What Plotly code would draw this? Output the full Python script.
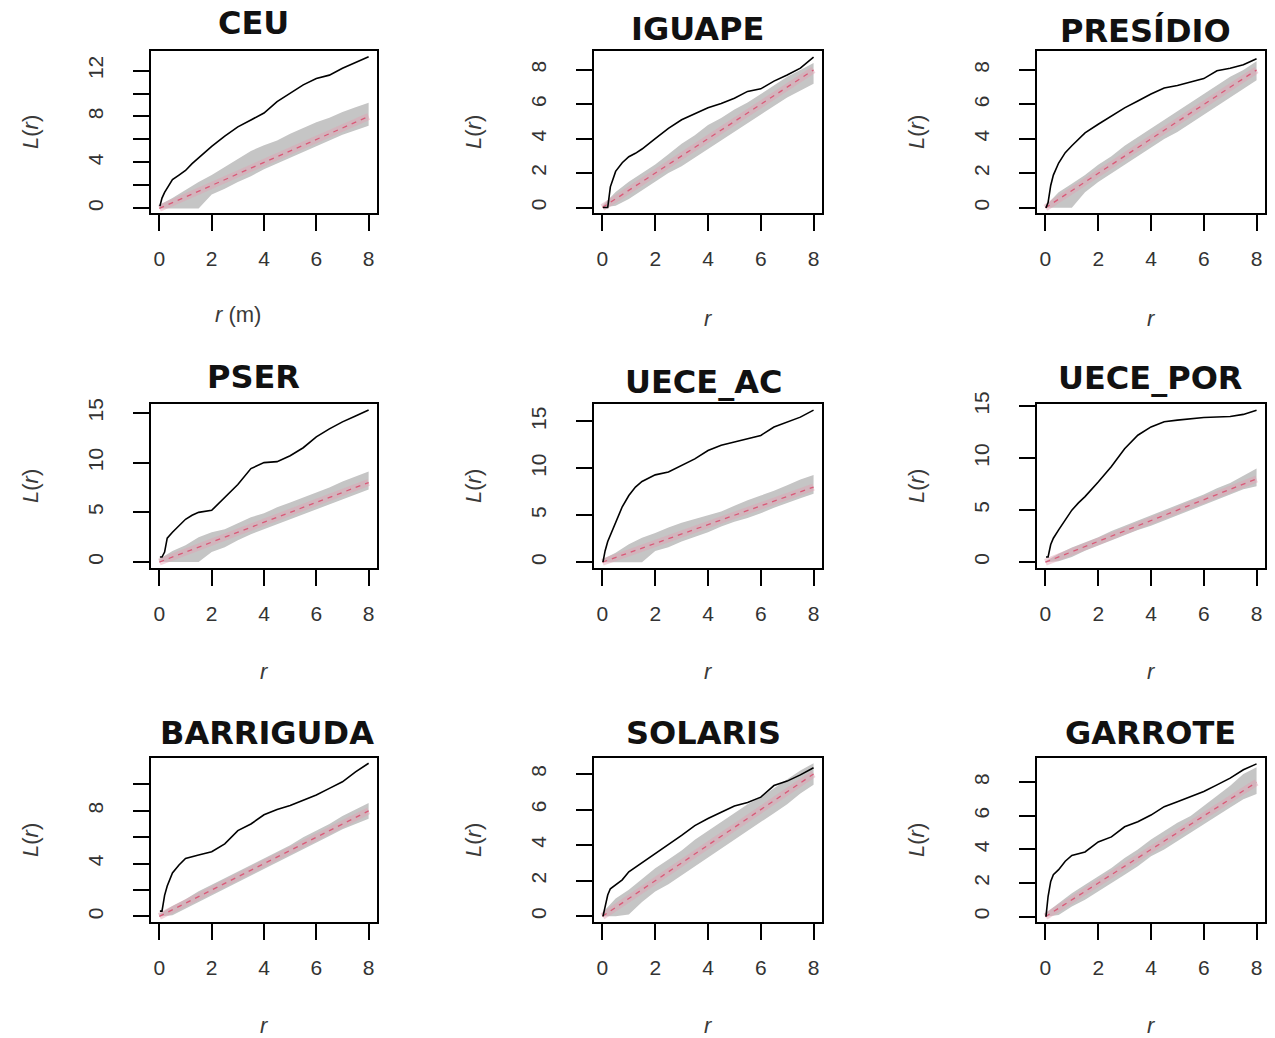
import plotly.graph_objects as go

# ---------------- data ----------------
PANELS = ["CEU", "IGUAPE", "PRESIDIO", "PSER", "UECE_AC", "UECE_POR",
          "BARRIGUDA", "SOLARIS", "GARROTE"]

OBS_R = [0.02, 0.1, 0.2, 0.3, 0.5, 0.75, 1, 1.25, 1.5, 2, 2.5, 3, 3.5, 4,
         4.5, 5, 5.5, 6, 6.5, 7, 7.5, 8]

OBS_CEU = [0.2, 0.9, 1.4, 1.8, 2.5, 2.9, 3.3, 3.9, 4.4, 5.4, 6.3, 7.1, 7.7, 8.3,
           9.3, 10.0, 10.75, 11.3, 11.6, 12.2, 12.7, 13.2]
OBS_IGUAPE = [0, 0, 0, 1.2, 2.1, 2.6, 2.95, 3.15, 3.4, 4.0, 4.6, 5.1, 5.45, 5.8,
              6.05, 6.35, 6.75, 6.9, 7.35, 7.7, 8.1, 8.75]
OBS_PRESIDIO = [0, 0.3, 1.3, 1.9, 2.6, 3.2, 3.6, 4.0, 4.35, 4.85, 5.35, 5.8, 6.2,
                6.6, 6.95, 7.1, 7.3, 7.5, 7.95, 8.1, 8.3, 8.65]
OBS_PSER = [0.5, 0.5, 1.0, 2.4, 3.0, 3.7, 4.3, 4.7, 5.0, 5.2, 6.5, 7.8, 9.4, 10.0,
            10.1, 10.7, 11.5, 12.6, 13.4, 14.1, 14.7, 15.3]
OBS_UECE_AC = [0, 1.2, 2.2, 2.9, 4.1, 5.9, 7.1, 8.0, 8.6, 9.3, 9.6, 10.3, 11.0,
               11.9, 12.45, 12.8, 13.15, 13.5, 14.4, 14.9, 15.45, 16.2]
OBS_UECE_POR = [0.5, 0.5, 1.7, 2.3, 3.1, 4.05, 5.0, 5.7, 6.3, 7.7, 9.2, 10.9, 12.2,
                13.0, 13.5, 13.65, 13.8, 13.9, 13.95, 14.0, 14.2, 14.6]
OBS_BARRIGUDA = [0.4, 0.4, 1.6, 2.3, 3.3, 3.9, 4.4, 4.55, 4.65, 4.9, 5.5, 6.5, 7.0,
                 7.7, 8.1, 8.4, 8.8, 9.2, 9.7, 10.2, 10.95, 11.6]
OBS_SOLARIS = [0, 0.6, 1.2, 1.55, 1.75, 2.05, 2.5, 2.75, 3.0, 3.55, 4.0, 4.55, 5.1,
               5.5, 5.85, 6.2, 6.4, 6.7, 7.35, 7.6, 7.95, 8.35]
OBS_GARROTE = [0, 1.2, 2.1, 2.5, 2.8, 3.3, 3.65, 3.75, 3.85, 4.45, 4.75, 5.35, 5.65,
               6.05, 6.55, 6.85, 7.15, 7.45, 7.85, 8.25, 8.75, 9.1]

ENV_R = [0, 0.5, 1, 1.5, 2, 2.5, 3, 3.5, 4, 4.5, 5, 5.5, 6, 6.5, 7, 7.5, 8]

HI_CEU = [0.3, 0.9, 1.6, 2.3, 2.9, 3.6, 4.3, 5.0, 5.5, 5.9, 6.5, 7.0, 7.5, 7.9, 8.4, 8.8, 9.2]
LO_CEU = [0, 0, 0, 0, 1.2, 1.7, 2.3, 2.8, 3.4, 3.9, 4.4, 4.9, 5.4, 5.9, 6.4, 6.8, 7.2]
HI_IGUAPE = [0.1, 0.9, 1.5, 2.0, 2.5, 3.1, 3.7, 4.2, 4.8, 5.2, 5.7, 6.1, 6.6, 7.1, 7.6, 8.0, 8.4]
LO_IGUAPE = [0, 0.1, 0.5, 1.0, 1.5, 2.0, 2.4, 2.9, 3.4, 3.9, 4.4, 4.9, 5.4, 5.9, 6.4, 6.8, 7.2]
HI_PRESIDIO = [0.1, 0.9, 1.4, 1.9, 2.5, 3.0, 3.6, 4.1, 4.6, 5.1, 5.6, 6.1, 6.6, 7.1, 7.6, 8.0, 8.5]
LO_PRESIDIO = [0, 0, 0, 0.9, 1.5, 2.0, 2.5, 3.0, 3.5, 4.0, 4.4, 4.9, 5.4, 5.9, 6.4, 6.9, 7.4]
HI_PSER = [0.3, 1.1, 1.7, 2.5, 3.0, 3.3, 3.9, 4.5, 4.9, 5.5, 6.0, 6.5, 7.0, 7.5, 8.1, 8.6, 9.1]
LO_PSER = [0, 0, 0, 0, 1.0, 1.5, 2.2, 2.8, 3.3, 3.8, 4.3, 4.8, 5.3, 5.8, 6.3, 6.8, 7.3]
HI_UECE_AC = [0.3, 1.0, 1.9, 2.6, 3.1, 3.7, 4.2, 4.6, 5.0, 5.4, 6.0, 6.6, 7.1, 7.6, 8.2, 8.8, 9.3]
LO_UECE_AC = [0, 0, 0, 0, 1.2, 1.6, 2.2, 2.7, 3.2, 3.8, 4.3, 4.7, 5.2, 5.8, 6.3, 6.8, 7.3]
HI_UECE_POR = [0.1, 0.8, 1.4, 1.9, 2.4, 3.0, 3.5, 4.0, 4.5, 5.0, 5.5, 6.0, 6.5, 7.1, 7.6, 8.3, 9.0]
LO_UECE_POR = [0, 0.1, 0.5, 1.1, 1.6, 2.1, 2.6, 3.1, 3.5, 4.0, 4.5, 5.0, 5.5, 6.0, 6.5, 7.0, 7.3]
HI_BARRIGUDA = [0.2, 0.8, 1.3, 1.9, 2.4, 2.9, 3.4, 3.9, 4.4, 4.9, 5.4, 6.0, 6.5, 7.0, 7.6, 8.1, 8.6]
LO_BARRIGUDA = [0, 0.1, 0.6, 1.1, 1.6, 2.1, 2.6, 3.1, 3.6, 4.1, 4.6, 5.1, 5.6, 6.1, 6.6, 7.0, 7.4]
HI_SOLARIS = [0.2, 1.0, 1.5, 2.1, 2.7, 3.2, 3.7, 4.3, 4.8, 5.3, 5.8, 6.3, 6.7, 7.2, 7.7, 8.2, 8.6]
LO_SOLARIS = [0, 0, 0.1, 0.8, 1.4, 1.8, 2.3, 2.8, 3.3, 3.8, 4.3, 4.8, 5.3, 5.8, 6.3, 6.9, 7.4]
HI_GARROTE = [0.2, 0.8, 1.4, 1.9, 2.4, 2.9, 3.5, 4.0, 4.6, 5.1, 5.6, 6.0, 6.6, 7.2, 7.8, 8.5, 8.9]
LO_GARROTE = [0, 0.1, 0.6, 1.0, 1.5, 2.0, 2.5, 3.0, 3.6, 4.0, 4.5, 5.0, 5.5, 6.0, 6.5, 7.0, 7.3]

THEO_R = [0, 8]
THEO_L = [0, 8]

X_TICKS = [0, 2, 4, 6, 8]
Y_TICKS_CEU = [0, 2, 4, 6, 8, 10, 12]
Y_LABELS_CEU = ["0", "", "4", "", "8", "", "12"]
Y_TICKS_8 = [0, 2, 4, 6, 8]
Y_LABELS_8 = ["0", "2", "4", "6", "8"]
Y_TICKS_15 = [0, 5, 10, 15]
Y_LABELS_15 = ["0", "5", "10", "15"]
Y_TICKS_BAR = [0, 2, 4, 6, 8, 10]
Y_LABELS_BAR = ["0", "", "4", "", "8", ""]

Y_RANGES = {
    "CEU": [-0.4, 13.7], "IGUAPE": [-0.32, 9.1], "PRESIDIO": [-0.3, 9.1],
    "PSER": [-0.6, 15.9], "UECE_AC": [-0.62, 16.85], "UECE_POR": [-0.56, 15.2],
    "BARRIGUDA": [-0.42, 12.0], "SOLARIS": [-0.32, 8.9], "GARROTE": [-0.32, 9.45],
}
X_LABELS = ["<i>r</i> (m)"] + ["<i>r</i>"] * 8

OBS = [OBS_CEU, OBS_IGUAPE, OBS_PRESIDIO, OBS_PSER, OBS_UECE_AC, OBS_UECE_POR,
       OBS_BARRIGUDA, OBS_SOLARIS, OBS_GARROTE]
HI = [HI_CEU, HI_IGUAPE, HI_PRESIDIO, HI_PSER, HI_UECE_AC, HI_UECE_POR,
      HI_BARRIGUDA, HI_SOLARIS, HI_GARROTE]
LO = [LO_CEU, LO_IGUAPE, LO_PRESIDIO, LO_PSER, LO_UECE_AC, LO_UECE_POR,
      LO_BARRIGUDA, LO_SOLARIS, LO_GARROTE]
YT = [(Y_TICKS_CEU, Y_LABELS_CEU), (Y_TICKS_8, Y_LABELS_8), (Y_TICKS_8, Y_LABELS_8),
      (Y_TICKS_15, Y_LABELS_15), (Y_TICKS_15, Y_LABELS_15), (Y_TICKS_15, Y_LABELS_15),
      (Y_TICKS_BAR, Y_LABELS_BAR), (Y_TICKS_8, Y_LABELS_8), (Y_TICKS_8, Y_LABELS_8)]

# ---------------- layout (pixels) ----------------
W, H = 1275, 1038
COLS = [(151, 377), (594, 822), (1037, 1265)]
ROWS = [(51, 213), (404, 568), (758, 922)]
TITLE_POS = [(253, 23), (697, 29), (1145, 31),
             (253, 377), (703, 382), (1150, 378),
             (267, 733), (703, 733), (1150, 733)]
XT_Y = [314, 318, 318, 671, 671, 671, 1025, 1025, 1025]
XT_X = [238, None, None, None, None, None, None, None, None]
YT_OFF = 121

TICK_FONT = dict(family="Liberation Sans, Arial, sans-serif", size=21, color="#333333")
LAB_FONT = dict(family="Liberation Sans, Arial, sans-serif", size=22, color="#3a3a3a")
TITLE_FONT = dict(family="DejaVu Sans, sans-serif", size=32, color="#111111")

fig = go.Figure()
annotations = []
layout = {}

for i, name in enumerate(PANELS):
    r_i, c_i = divmod(i, 3)
    x0, x1 = COLS[c_i]
    y0, y1 = ROWS[r_i]
    ax = "" if i == 0 else str(i + 1)
    xa, ya = "x" + ax, "y" + ax

    band_x = ENV_R + ENV_R[::-1]
    band_y = HI[i] + LO[i][::-1]
    fig.add_trace(go.Scatter(x=band_x, y=band_y, fill="toself", fillcolor="#c5c5c5",
                             line=dict(width=0), mode="lines", hoverinfo="skip",
                             showlegend=False, xaxis=xa, yaxis=ya))
    fig.add_trace(go.Scatter(x=THEO_R, y=THEO_L, mode="lines",
                             line=dict(color="rgba(226,160,178,0.45)", width=7),
                             showlegend=False, hoverinfo="skip", xaxis=xa, yaxis=ya))
    fig.add_trace(go.Scatter(x=THEO_R, y=THEO_L, mode="lines",
                             line=dict(color="#d95a78", width=1.3, dash="5px,5px"),
                             showlegend=False, xaxis=xa, yaxis=ya))
    fig.add_trace(go.Scatter(x=OBS_R, y=OBS[i], mode="lines",
                             line=dict(color="#000000", width=1.6),
                             showlegend=False, xaxis=xa, yaxis=ya))

    common = dict(showgrid=False, zeroline=False, showline=True, mirror=True,
                  linecolor="black", linewidth=2, ticks="outside", ticklen=16,
                  tickwidth=2, tickcolor="black", tickfont=TICK_FONT, automargin=False)
    layout["xaxis" + ax] = dict(domain=[x0 / W, x1 / W], anchor=ya, range=[-0.32, 8.32],
                                tickmode="array", tickvals=X_TICKS,
                                ticktext=[str(v) for v in X_TICKS],
                                ticklabelstandoff=10, **common)
    layout["yaxis" + ax] = dict(domain=[1 - y1 / H, 1 - y0 / H], anchor=xa,
                                range=Y_RANGES[name], tickmode="array",
                                tickvals=YT[i][0], ticktext=YT[i][1], tickangle=-90,
                                ticklabelstandoff=22, **common)

    tx, ty = TITLE_POS[i]
    annotations.append(dict(text="<b>" + name.replace("PRESIDIO", "PRESÍDIO") + "</b>",
                            x=tx / W, y=1 - ty / H, xref="paper", yref="paper",
                            xanchor="center", yanchor="middle", showarrow=False,
                            font=TITLE_FONT))
    annotations.append(dict(text="<i>L</i>(<i>r</i>)", x=(x0 - YT_OFF) / W,
                            y=1 - (y0 + y1) / 2 / H, xref="paper", yref="paper",
                            xanchor="center", yanchor="middle", textangle=-90,
                            showarrow=False, font=LAB_FONT))
    xtx = XT_X[i] if XT_X[i] is not None else (x0 + x1) / 2
    annotations.append(dict(text=X_LABELS[i], x=xtx / W, y=1 - XT_Y[i] / H,
                            xref="paper", yref="paper", xanchor="center",
                            yanchor="middle", showarrow=False, font=LAB_FONT))

fig.update_layout(width=W, height=H,
                  margin=dict(l=0, r=0, t=0, b=0, pad=0, autoexpand=False),
                  paper_bgcolor="white", plot_bgcolor="white",
                  annotations=annotations, **layout)

fig.write_html("out.html")
